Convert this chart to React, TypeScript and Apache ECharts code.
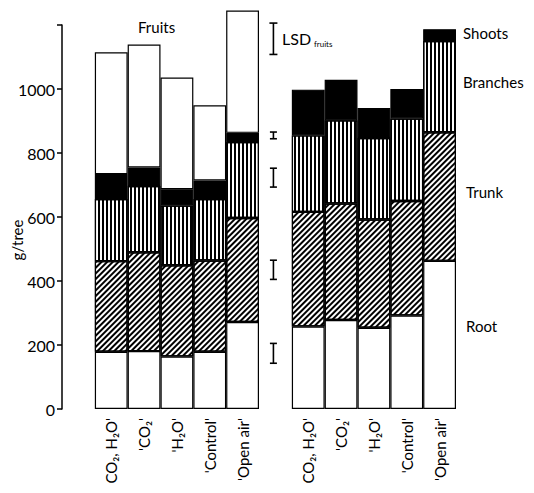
import React, { useEffect, useRef } from "react";
import * as echarts from "echarts";

const treatments = ["CO₂, H₂O'", "'CO₂'", "'H₂O'", "'Control'", "'Open air'"];
const categories = ["", ...treatments, "", ...treatments];

// Left group (with fruits), g/tree per component
const leftRoot = [179, 181, 164, 179, 272];
const leftTrunk = [283, 309, 285, 285, 325];
const leftBranches = [194, 207, 187, 192, 237];
const leftShoots = [78, 58, 51, 58, 29];
const leftFruits = [381, 384, 349, 235, 382];

// Right group (vegetative only)
const rightRoot = [258, 278, 254, 292, 463];
const rightTrunk = [358, 364, 338, 358, 402];
const rightBranches = [239, 260, 255, 258, 285];
const rightShoots = [143, 127, 94, 92, 37];

// LSD bars: [centre value, length]
const lsdNames = ["fruits", "shoots", "branches", "trunk", "root"];
const lsdCentres = [1157, 855, 723, 435, 174];
const lsdLengths = [98, 21, 59, 60, 62];

const yTicks = [0, 200, 400, 600, 800, 1000, 1200];

const FONT = "Lato";

function pad(left: (number | string)[], right: (number | string)[]) {
  return ["-", ...left, "-", ...right];
}

export default function App() {
  const ref = useRef<HTMLDivElement>(null);
  useEffect(() => {
    if (!ref.current) return;
    const chart = echarts.init(ref.current, undefined, { renderer: "svg" });
    const border = { borderColor: "#000", borderWidth: 1.2 };
    const baseBar = {
      type: "bar",
      stack: "tree",
      barWidth: "100%",
      barCategoryGap: 0,
      clip: false,
      silent: true,
    };
    const empty = ["-", "-", "-", "-", "-"];
    const option: any = {
      animation: false,
      backgroundColor: "#fff",
      grid: { left: 62, right: 78, top: 25, bottom: 84, containLabel: false, outerBoundsMode: "none" },
      xAxis: {
        type: "category",
        data: categories,
        axisLine: { show: false },
        axisTick: { show: false },
        axisLabel: {
          rotate: 90,
          interval: 0,
          margin: 9,
          color: "#000",
          fontSize: 15,
          fontFamily: FONT,
        },
      },
      yAxis: {
        type: "value",
        min: 0,
        max: 1200,
        interval: 200,
        axisLine: { show: true, lineStyle: { color: "#000", width: 1.5 } },
        axisTick: { show: true, length: 5, lineStyle: { color: "#000", width: 1.5 } },
        splitLine: { show: false },
        axisLabel: {
          color: "#000",
          fontSize: 16,
          fontFamily: FONT,
          margin: 7,
          formatter: (v: number) => (v === yTicks[yTicks.length - 1] ? "" : String(v)),
        },
      },
      series: [
        {
          ...baseBar,
          name: "Root",
          data: pad(leftRoot, rightRoot),
          itemStyle: { color: "#fff", ...border },
        },
        {
          ...baseBar,
          name: "Trunk",
          data: pad(leftTrunk, rightTrunk),
          itemStyle: {
            color: "#fff",
            ...border,
            decal: {
              symbol: "rect",
              symbolSize: 1,
              color: "#000",
              backgroundColor: "#fff",
              dashArrayX: [1, 0],
              dashArrayY: [1.2, 1.8],
              rotation: -Math.PI / 4,
            },
          },
        },
        {
          ...baseBar,
          name: "Branches",
          data: pad(leftBranches, rightBranches),
          itemStyle: {
            color: "#fff",
            ...border,
            decal: {
              symbol: "rect",
              symbolSize: 1,
              color: "#000",
              backgroundColor: "#fff",
              dashArrayX: [1, 0],
              dashArrayY: [1.6, 1.4],
              rotation: Math.PI / 2,
            },
          },
        },
        {
          ...baseBar,
          name: "Shoots",
          data: pad(leftShoots, rightShoots),
          itemStyle: { color: "#000", ...border },
        },
        {
          ...baseBar,
          name: "Fruits",
          data: pad(leftFruits, empty),
          itemStyle: { color: "#fff", ...border },
        },
        {
          type: "custom",
          name: "LSD",
          silent: true,
          clip: false,
          data: lsdCentres.map((c, i) => [6, c, lsdLengths[i], i]),
          renderItem: (params: any, api: any) => {
            const idx = api.value(0);
            const c = api.value(1);
            const len = api.value(2);
            const top = api.coord([idx, c + len / 2]);
            const bot = api.coord([idx, c - len / 2]);
            const x = top[0] - 2;
            const cap = api.value(3) === 0 ? 4 : 3.5;
            const st = { stroke: "#000", lineWidth: 1.6 };
            return {
              type: "group",
              children: [
                { type: "line", shape: { x1: x, y1: top[1], x2: x, y2: bot[1] }, style: st },
                { type: "line", shape: { x1: x - cap, y1: top[1], x2: x + cap, y2: top[1] }, style: st },
                { type: "line", shape: { x1: x - cap, y1: bot[1], x2: x + cap, y2: bot[1] }, style: st },
              ],
            };
          },
        },
      ],
      graphic: [
        {
          type: "text",
          x: 17,
          y: 240,
          rotation: Math.PI / 2,
          style: { text: "g/tree", fill: "#000", fontSize: 15, fontFamily: FONT, align: "center", verticalAlign: "middle" },
        },
        { type: "text", left: 138, top: 19, style: { text: "Fruits", fill: "#000", fontSize: 15, fontFamily: FONT } },
        { type: "text", left: 282, top: 30, style: { text: "LSD", fill: "#000", fontSize: 16, fontFamily: FONT } },
        { type: "text", left: 314, top: 40, style: { text: lsdNames[0], fill: "#000", fontSize: 8, fontFamily: FONT } },
        { type: "text", left: 463, top: 25, style: { text: "Shoots", fill: "#000", fontSize: 15, fontFamily: FONT } },
        { type: "text", left: 463, top: 74, style: { text: "Branches", fill: "#000", fontSize: 15, fontFamily: FONT } },
        { type: "text", left: 466, top: 184, style: { text: "Trunk", fill: "#000", fontSize: 15, fontFamily: FONT } },
        { type: "text", left: 466, top: 318, style: { text: "Root", fill: "#000", fontSize: 15, fontFamily: FONT } },
      ],
    };
    chart.setOption(option);
    return () => chart.dispose();
  }, []);
  return (
    <div
      ref={ref}
      style={{ position: "fixed", left: 0, top: 0, width: 534, height: 493, background: "#fff" }}
    />
  );
}
